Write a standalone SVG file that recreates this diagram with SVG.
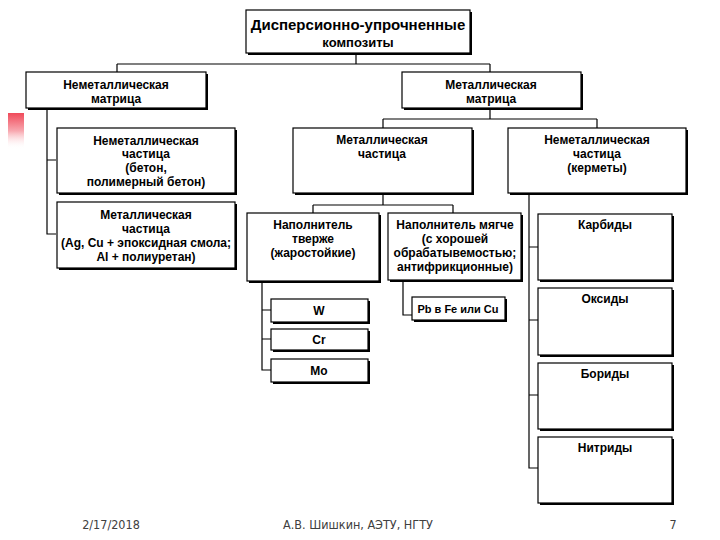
<svg xmlns="http://www.w3.org/2000/svg" width="720" height="540" viewBox="0 0 720 540">
<defs>
<linearGradient id="red" x1="0" y1="0" x2="0" y2="1">
<stop offset="0" stop-color="#f04a5a"/>
<stop offset="0.5" stop-color="#f8a8b0"/>
<stop offset="1" stop-color="#ffffff" stop-opacity="0"/>
</linearGradient>
<style>
.sh{fill:#000}
.bx{fill:#fff;stroke:#000;stroke-width:1.2}
.t{font-family:"Liberation Sans",Arial,sans-serif;font-weight:bold;font-size:12px;fill:#000;text-anchor:middle}
.ti{font-family:"Liberation Sans",Arial,sans-serif;font-weight:bold;font-size:15px;fill:#000;text-anchor:middle}
.ft{font-family:"DejaVu Sans Condensed","DejaVu Sans",sans-serif;font-size:12.5px;fill:#404040;text-anchor:middle}
.ln{fill:none;stroke:#000;stroke-width:1.2}
</style>
</defs>
<rect width="720" height="540" fill="#fff"/>
<rect x="8" y="113" width="16" height="36" fill="url(#red)"/>

<g id="connectors" class="ln">
<path d="M356 53V64M117 64H490M117 64V72M490 64V72"/>
<path d="M47 108V234H56M47 160H56"/>
<path d="M490 108V119M383 119H597M383 119V128M597 119V128"/>
<path d="M383 193V205M313 205H453M313 205V213M453 205V213"/>
<path d="M262 281V370H271M262 310H271M262 339H271"/>
<path d="M403 280V315H412"/>
<path d="M529 193V468H538M529 247H538M529 320H538M529 395H538"/>
</g>

<g id="n-root"><rect class="sh" x="248" y="12" width="224" height="43"/><rect class="bx" x="246" y="10" width="224" height="43"/>
<text class="ti" x="358" y="30">Дисперсионно-упрочненные</text><text class="t" x="358" y="47" style="font-size:13px">композиты</text></g>

<g id="n-nmm"><rect class="sh" x="28" y="74" width="180" height="36"/><rect class="bx" x="26" y="72" width="180" height="36"/>
<text class="t" x="116" y="89">Неметаллическая</text><text class="t" x="116" y="103">матрица</text></g>

<g id="n-mm"><rect class="sh" x="404" y="74" width="179" height="36"/><rect class="bx" x="402" y="72" width="179" height="36"/>
<text class="t" x="491" y="89">Металлическая</text><text class="t" x="491" y="103">матрица</text></g>

<g id="n-np1"><rect class="sh" x="59" y="130" width="178" height="65"/><rect class="bx" x="57" y="128" width="178" height="65"/>
<text class="t" x="146" y="145">Неметаллическая</text><text class="t" x="146" y="158">частица</text><text class="t" x="146" y="172">(бетон,</text><text class="t" x="146" y="186">полимерный бетон)</text></g>

<g id="n-mp1"><rect class="sh" x="59" y="204" width="178" height="66"/><rect class="bx" x="57" y="202" width="178" height="66"/>
<text class="t" x="146" y="219">Металлическая</text><text class="t" x="146" y="233">частица</text><text class="t" x="146" y="247">(Ag, Cu + эпоксидная смола;</text><text class="t" x="146" y="261">Al + полиуретан)</text></g>

<g id="n-mp2"><rect class="sh" x="295" y="130" width="179" height="65"/><rect class="bx" x="293" y="128" width="179" height="65"/>
<text class="t" x="382" y="144">Металлическая</text><text class="t" x="382" y="158">частица</text></g>

<g id="n-np2"><rect class="sh" x="510" y="130" width="178" height="65"/><rect class="bx" x="508" y="128" width="178" height="65"/>
<text class="t" x="597" y="144">Неметаллическая</text><text class="t" x="597" y="158">частица</text><text class="t" x="597" y="172">(керметы)</text></g>

<g id="n-hard"><rect class="sh" x="249" y="215" width="132" height="68"/><rect class="bx" x="247" y="213" width="132" height="68"/>
<text class="t" x="313" y="229">Наполнитель</text><text class="t" x="313" y="243">тверже</text><text class="t" x="313" y="257">(жаростойкие)</text></g>

<g id="n-soft"><rect class="sh" x="390" y="215" width="133" height="67"/><rect class="bx" x="388" y="213" width="133" height="67"/>
<text class="t" x="455" y="229">Наполнитель мягче</text><text class="t" x="455" y="243">(с хорошей</text><text class="t" x="455" y="257">обрабатывемостью;</text><text class="t" x="455" y="271">антифрикционные)</text></g>

<g id="n-w"><rect class="sh" x="273" y="301" width="97" height="23"/><rect class="bx" x="271" y="299" width="97" height="23"/><text class="t" x="319" y="315">W</text></g>
<g id="n-cr"><rect class="sh" x="273" y="331" width="97" height="21"/><rect class="bx" x="271" y="329" width="97" height="21"/><text class="t" x="319" y="344">Cr</text></g>
<g id="n-mo"><rect class="sh" x="273" y="361" width="97" height="23"/><rect class="bx" x="271" y="359" width="97" height="23"/><text class="t" x="319" y="375">Mo</text></g>
<g id="n-pb"><rect class="sh" x="414" y="299" width="93" height="23"/><rect class="bx" x="412" y="297" width="93" height="23"/><text class="t" x="458" y="313" style="font-size:11px">Pb в Fe или Cu</text></g>

<g id="n-carb"><rect class="sh" x="540" y="216" width="134" height="66"/><rect class="bx" x="538" y="214" width="134" height="66"/><text class="t" x="605" y="229">Карбиды</text></g>
<g id="n-oxid"><rect class="sh" x="540" y="290" width="134" height="67"/><rect class="bx" x="538" y="288" width="134" height="67"/><text class="t" x="605" y="303">Оксиды</text></g>
<g id="n-bor"><rect class="sh" x="540" y="365" width="134" height="66"/><rect class="bx" x="538" y="363" width="134" height="66"/><text class="t" x="605" y="378">Бориды</text></g>
<g id="n-nitr"><rect class="sh" x="540" y="439" width="134" height="66"/><rect class="bx" x="538" y="437" width="134" height="66"/><text class="t" x="605" y="452">Нитриды</text></g>

<text class="ft" x="111" y="529">2/17/2018</text>
<text class="ft" x="358" y="529">А.В. Шишкин, АЭТУ, НГТУ</text>
<text class="ft" x="673" y="529">7</text>
</svg>
